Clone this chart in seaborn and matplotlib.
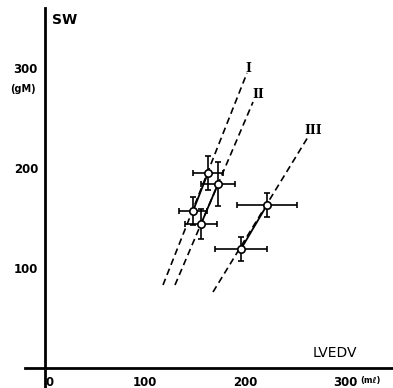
import matplotlib
matplotlib.use("Agg")
import matplotlib.pyplot as plt
import seaborn as sns
import pandas as pd

# measured points (mean +/- error) for each group
groups = ["I", "I", "II", "II", "III", "III"]
lvedv = [148, 163, 156, 173, 196, 222]
sw = [157, 195, 144, 184, 119, 163]
lvedv_err = [14, 15, 16, 17, 26, 30]
sw_err = [14, 17, 15, 22, 12, 12]

# dashed lines, end points per group
line_names = ["I", "II", "III"]
line_x = [[118, 202], [130, 208], [168, 263]]
line_y = [[83, 295], [83, 266], [76, 231]]
label_pos = [(203, 300), (213, 274), (268, 238)]

x_ticks = [0, 100, 200, 300]
y_ticks = [100, 200, 300]

df = pd.DataFrame({"group": groups, "LVEDV": lvedv, "SW": sw,
                   "xerr": lvedv_err, "yerr": sw_err})

sns.set_style("white")
plt.rcParams["font.family"] = ["DejaVu Sans"]
plt.rcParams.update({"text.color": "black", "axes.edgecolor": "black",
                     "xtick.color": "black", "ytick.color": "black"})

fig = plt.figure(figsize=(3.93, 3.88), dpi=100)
ax = fig.add_axes([0, 0, 1, 1])

for name, xs, ys in zip(line_names, line_x, line_y):
    ax.plot(xs, ys, ls=(0, (4, 2.5)), color="black", lw=1.2, zorder=1)

sns.lineplot(data=df, x="LVEDV", y="SW", units="group", estimator=None,
             color="black", lw=1.3, ax=ax, zorder=2)

ax.errorbar(df["LVEDV"], df["SW"], xerr=df["xerr"], yerr=df["yerr"],
            fmt="none", ecolor="black", elinewidth=1.2, capsize=2.5,
            capthick=1.2, zorder=3)
ax.scatter(df["LVEDV"], df["SW"], s=28, facecolor="white",
           edgecolor="black", linewidth=1.2, zorder=4)

for name, (tx, ty) in zip(line_names, label_pos):
    ax.text(tx, ty, name, family="DejaVu Serif", fontweight="bold",
            fontsize=9, ha="center", va="center")

ax.set_xlim(-45, 348)
ax.set_ylim(-20, 368)

for s in ["top", "right"]:
    ax.spines[s].set_visible(False)
ax.spines["left"].set_position(("data", 0))
ax.spines["bottom"].set_position(("data", 0))
ax.spines["left"].set_bounds(-20, 360)
ax.spines["bottom"].set_bounds(-20, 348)
ax.spines["left"].set_linewidth(2)
ax.spines["bottom"].set_linewidth(2)

ax.set_xticks(x_ticks)
ax.set_xticklabels(["0", "100", "200", "300"], fontsize=8.5, fontweight="bold")
ax.set_yticks(y_ticks)
ax.set_yticklabels(["100", "200", "300"], fontsize=8.5, fontweight="bold")
ax.tick_params(axis="x", direction="inout", length=5, width=1, pad=3)
ax.tick_params(axis="y", direction="out", length=4, width=1, pad=1)
for lab in ax.get_xticklabels()[:1]:
    lab.set_horizontalalignment("left")

ax.set_xlabel("")
ax.set_ylabel("")
ax.text(7, 348, "SW", fontsize=10, fontweight="bold", va="center", ha="left")
ax.text(-22, 279, "(gM)", fontsize=7, fontweight="bold", va="center", ha="center")
ax.text(268, 15, "LVEDV", fontsize=10, va="center", ha="left")
ax.text(315, -13, "(m\u2113)", fontsize=6, fontweight="bold", va="center", ha="left")

fig.savefig("out.png", dpi=100)
